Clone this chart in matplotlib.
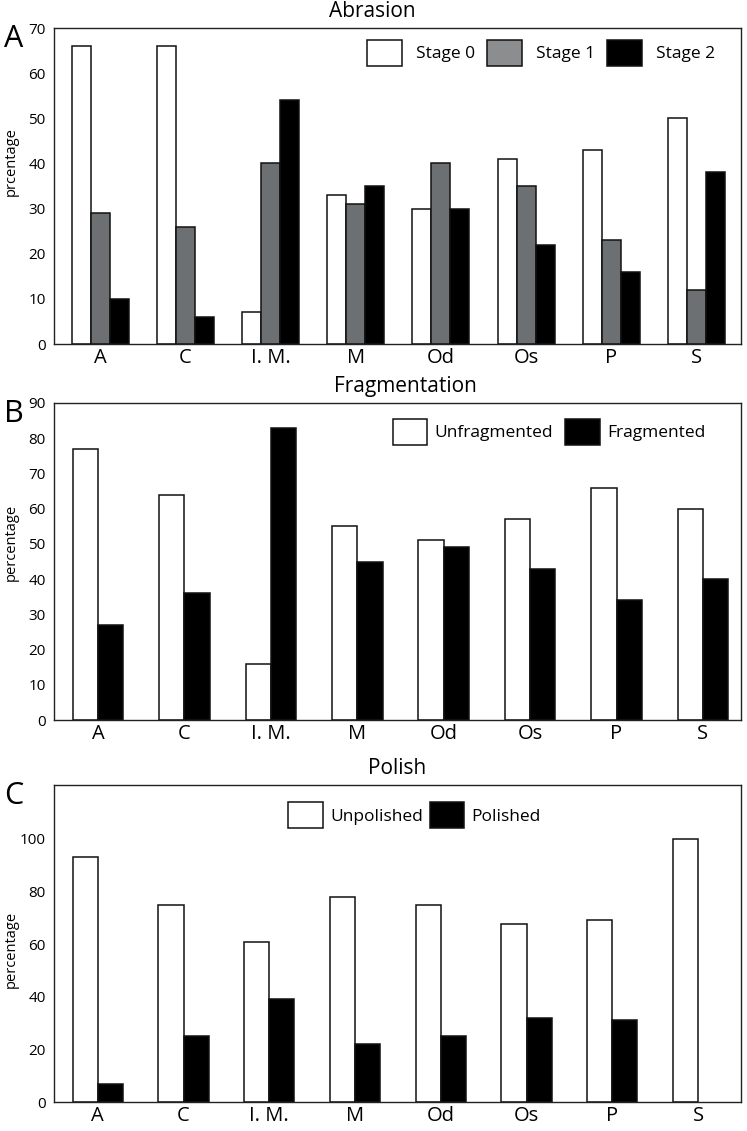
import matplotlib
matplotlib.use("Agg")
import matplotlib.pyplot as plt
import numpy as np

plt.rcParams['font.family'] = ['Open Sans', 'DejaVu Sans']

sites = ["A", "C", "I. M.", "M", "Od", "Os", "P", "S"]

# abrasion
stage0 = [66, 66, 7, 33, 30, 41, 43, 50]
stage1 = [29, 26, 40, 31, 40, 35, 23, 12]
stage2 = [10, 6, 54, 35, 30, 22, 16, 38]

# fragmentation
unfrag = [77, 64, 16, 55, 51, 57, 66, 60]
frag = [27, 36, 83, 45, 49, 43, 34, 40]

# polish
unpol = [93, 75, 61, 78, 75, 67.5, 69, 100]
pol = [7, 25, 39, 22, 25, 32, 31, 0]

W, H = 747, 1131
fig = plt.figure(figsize=(W / 100, H / 100), dpi=100)


def make_axes(top, bottom):
    return fig.add_axes([54 / W, 1 - bottom / H, 687 / W, (bottom - top) / H])


def style(ax, letter, title, tx, ylabel, ly):
    for s in ax.spines.values():
        s.set_linewidth(1.0)
        s.set_color('#222222')
    ax.tick_params(axis='both', length=0)
    ax.tick_params(axis='y', labelsize=11, pad=6)
    ax.tick_params(axis='x', labelsize=14.5, pad=3)
    ax.set_xticks(np.arange(len(sites)))
    ax.set_xticklabels(sites)
    ax.text(tx, 1.018, title, transform=ax.transAxes, ha='center', va='bottom', fontsize=15)
    ax.text(-0.073, 1.012, letter, transform=ax.transAxes, ha='left', va='top', fontsize=22)
    ax.set_ylabel(ylabel, fontsize=10.5)
    ax.yaxis.set_label_coords(-0.052, ly)
    # no outline on empty bars
    for p in ax.patches:
        if p.get_height() == 0:
            p.set_linewidth(0)


x = np.arange(len(sites))
edge = dict(edgecolor='#111111', linewidth=1.1)
leg = dict(frameon=False, fontsize=12.5, handlelength=2.0, handleheight=1.9,
           borderpad=0, borderaxespad=0, loc='upper left')

# A
ax1 = make_axes(28, 344)
w = 0.223
ax1.bar(x - w, stage0, w, color='white', label='Stage 0', **edge)
ax1.bar(x, stage1, w, color='#6d7072', label='Stage 1', **edge)
ax1.bar(x + w, stage2, w, color='black', label='Stage 2', **edge)
ax1.set_ylim(0, 70)
ax1.set_yticks(range(0, 71, 10))
ax1.set_xlim(-0.54, 7.52)
style(ax1, "A", "Abrasion", 0.463, "prcentage", 0.576)
lg = ax1.legend(ncol=3, bbox_to_anchor=(0.456, 0.962), handletextpad=0.8,
                columnspacing=0.7, **leg)
lg.legend_handles[1].set_facecolor('#8b8d8f')

# B
ax2 = make_axes(403, 720)
w = 0.293
ax2.bar(x - w / 2, unfrag, w, color='white', label='Unfragmented', **edge)
ax2.bar(x + w / 2, frag, w, color='black', label='Fragmented', **edge)
ax2.set_ylim(0, 90)
ax2.set_yticks(range(0, 91, 10))
ax2.set_xlim(-0.51, 7.44)
style(ax2, "B", "Fragmentation", 0.511, "percentage", 0.56)
ax2.legend(ncol=2, bbox_to_anchor=(0.493, 0.95), handletextpad=0.4,
           columnspacing=0.7, **leg)

# C
ax3 = make_axes(785, 1102)
ax3.bar(x - w / 2, unpol, w, color='white', label='Unpolished', **edge)
ax3.bar(x + w / 2, pol, w, color='black', label='Polished', **edge)
ax3.set_ylim(0, 120.5)
ax3.set_yticks(range(0, 101, 20))
ax3.set_xlim(-0.51, 7.50)
style(ax3, "C", "Polish", 0.5, "percentage", 0.48)
ax3.legend(ncol=2, bbox_to_anchor=(0.341, 0.946), handletextpad=0.4,
           columnspacing=0.4, **leg)

fig.savefig("out.png", dpi=100)
